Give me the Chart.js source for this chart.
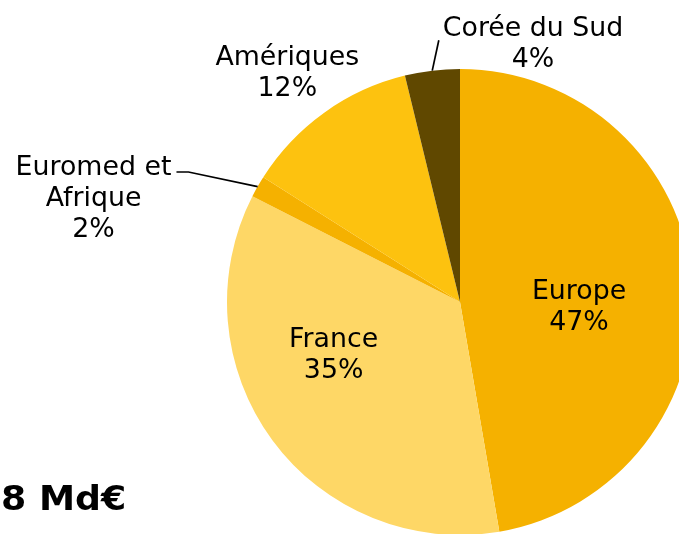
<!DOCTYPE html>
<html>
<head>
<meta charset="utf-8">
<script src="https://cdn.jsdelivr.net/npm/chart.js@4/dist/chart.umd.min.js"></script>
<style>
  html, body { margin: 0; padding: 0; overflow: hidden; background: #ffffff; width: 679px; height: 534px; }
  #wrap { position: absolute; left: 0; top: 0; width: 700px; height: 540px; }
</style>
</head>
<body>
<div id="wrap"><canvas id="c" width="700" height="540"></canvas></div>
<script>
// ---- data ----
const categories = ['Europe', 'France', 'Euromed et Afrique', 'Amériques', 'Corée du Sud'];
const labelLines = [['Europe'], ['France'], ['Euromed et', 'Afrique'], ['Amériques'], ['Corée du Sud']];
const values = [47.3, 35.2, 1.5, 12.2, 3.8];
const colors = ['#F5B100', '#FED766', '#F5B100', '#FDC20F', '#604800'];
const totalText = '8 Md€';

// label placement (polar, relative to pie centre: canvas angle in degrees, fraction of radius)
const labelPlacement = [
  { ang: 1.2, rf: 0.511, leader: null },
  { ang: 158.0, rf: 0.585, leader: null },
  { ang: 196.1, rf: 1.637, leader: 'right' },
  { ang: 233.2, rf: 1.237, leader: null },
  { ang: -74.3, rf: 1.159, leader: 'left' }
];

const FONT = '26.8px "DejaVu Sans", Verdana, sans-serif';
const LH = 31;
const CAP = 19.5;

const labelsPlugin = {
  id: 'pieLabels',
  afterDraw(chart) {
    const ctx = chart.ctx;
    const meta = chart.getDatasetMeta(0);
    const total = values.reduce((a, b) => a + b, 0);
    ctx.save();
    ctx.font = FONT;
    ctx.fillStyle = '#000000';
    ctx.textAlign = 'center';
    ctx.textBaseline = 'alphabetic';
    meta.data.forEach((arc, i) => {
      const p = labelPlacement[i];
      const R = arc.outerRadius;
      const a = p.ang * Math.PI / 180;
      const cx = arc.x + Math.cos(a) * R * p.rf;
      const cy = arc.y + Math.sin(a) * R * p.rf;
      const lines = labelLines[i].concat([Math.round(values[i] / total * 100) + '%']);
      const n = lines.length;
      const b1 = cy - (n - 1) * LH / 2 + CAP / 2;
      lines.forEach((t, k) => ctx.fillText(t, cx, b1 + k * LH));
      if (p.leader) {
        const mid = (arc.startAngle + arc.endAngle) / 2;
        const ex = arc.x + Math.cos(mid) * R;
        const ey = arc.y + Math.sin(mid) * R;
        const w = ctx.measureText(lines[0]).width;
        ctx.beginPath();
        ctx.strokeStyle = '#000000';
        ctx.lineWidth = 1.7;
        if (p.leader === 'right') {
          const x0 = cx + w / 2 + 5;
          const y0 = b1 - 3;
          ctx.moveTo(x0, y0);
          ctx.lineTo(x0 + 12, y0);
          ctx.lineTo(ex, ey);
        } else {
          const x0 = cx - w / 2 - 4;
          const y0 = b1 + 4;
          ctx.moveTo(x0, y0);
          ctx.lineTo(ex, ey);
        }
        ctx.stroke();
      }
    });
    // total text, bottom left
    ctx.font = 'bold 33px "DejaVu Sans", Verdana, sans-serif';
    ctx.textAlign = 'left';
    ctx.save();
    ctx.translate(1, 510);
    ctx.scale(1.1, 1);
    ctx.fillText(totalText, 0, 0);
    ctx.restore();
    ctx.restore();
  }
};

new Chart(document.getElementById('c'), {
  type: 'pie',
  data: {
    labels: categories,
    datasets: [{
      data: values,
      backgroundColor: colors,
      borderWidth: 0
    }]
  },
  options: {
    responsive: false,
    animation: false,
    layout: { padding: { left: 227, top: 69, right: 7, bottom: 5 } },
    plugins: {
      legend: { display: false },
      tooltip: { enabled: false }
    }
  },
  plugins: [labelsPlugin]
});
</script>
</body>
</html>
